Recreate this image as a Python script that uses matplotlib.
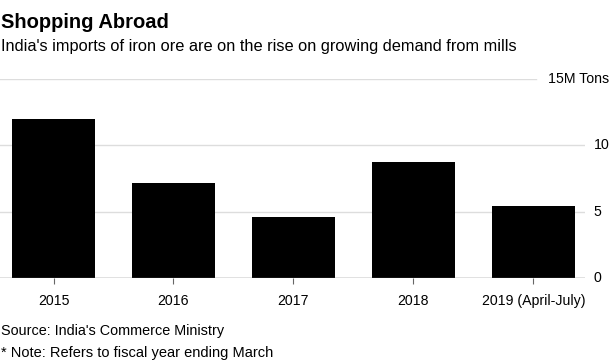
import matplotlib.pyplot as plt

years = ['2015', '2016', '2017', '2018', '2019 (April-July)']
imports = [12.0, 7.15, 4.58, 8.71, 5.45]
ticks = [0, 5, 10, 15]
tick_labels = ['0', '5', '10', '15M Tons']

plt.rcParams['font.family'] = ['Liberation Sans', 'DejaVu Sans']

fig = plt.figure(figsize=(6.13, 3.62), dpi=100)
ax = fig.add_axes([0, 84.3 / 362, 585 / 613, 198.4 / 362])

x = range(len(years))
ax.bar(x, imports, width=0.69, color='black', zorder=3)

for t in ticks[1:-1]:
    ax.axhline(t, color='#dddddd', lw=1, zorder=1)
ax.axhline(15, xmax=536 / 585, color='#dddddd', lw=1, zorder=1)
ax.axhline(0, color='#666666', lw=1, zorder=4)

ax.set_xlim(-0.446, 4.43)
ax.set_ylim(0, 15)
ax.set_xticks(list(x))
ax.set_xticklabels(years, fontsize=10.2)
ax.tick_params(axis='x', length=4, color='#666666', pad=8)
ax.set_yticks([])
for s in ax.spines.values():
    s.set_visible(False)

tr = ax.get_yaxis_transform()
for t, lab in zip(ticks, tick_labels):
    xpos = 1.015 if t != 15 else 0.937
    ax.text(xpos, t, lab, transform=tr, ha='left', va='center', fontsize=10.2)

fig.text(0.002, 1 - 22 / 362, 'Shopping Abroad', fontsize=14.5, fontweight='bold', va='center')
fig.text(0.002, 1 - 47 / 362, "India's imports of iron ore are on the rise on growing demand from mills",
         fontsize=11.8, va='center')
fig.text(0.002, 1 - 331 / 362, "Source: India's Commerce Ministry", fontsize=10.4, va='center')
fig.text(0.002, 1 - 353 / 362, '* Note: Refers to fiscal year ending March', fontsize=10.5, va='center')

fig.savefig('out.png', dpi=100)
